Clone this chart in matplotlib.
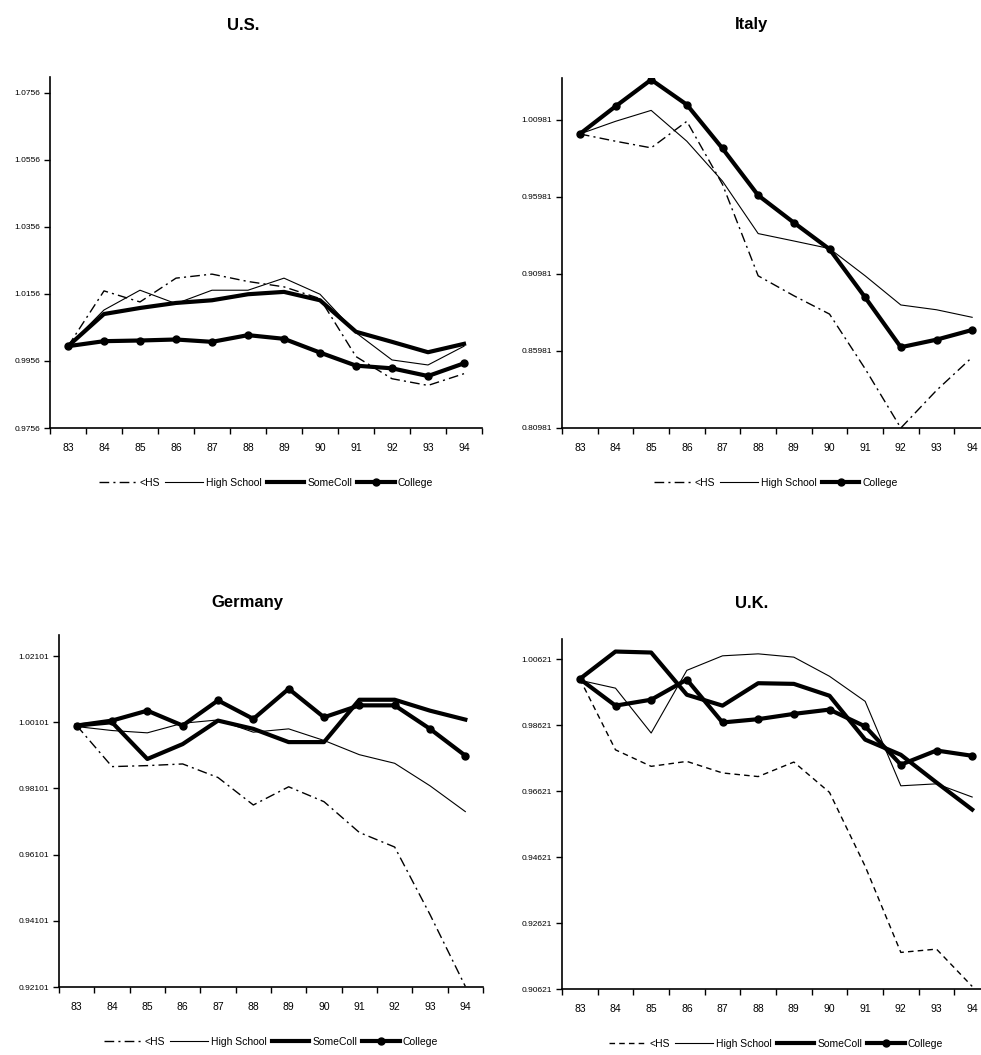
import matplotlib
matplotlib.use("Agg")
import matplotlib.pyplot as plt
from matplotlib.lines import Line2D

plt.rcParams['font.family'] = ['Liberation Sans Narrow', 'Liberation Sans', 'DejaVu Sans']

years = ['83', '84', '85', '86', '87', '88', '89', '90', '91', '92', '93', '94']

# relative wage series by education group, 1983 = 1
us_hs = [1.0000, 1.0165, 1.0132, 1.0203, 1.0215, 1.0193, 1.0177, 1.0142, 0.9969, 0.9903, 0.9883, 0.9918]
us_highschool = [1.0000, 1.0108, 1.0167, 1.0127, 1.0167, 1.0167, 1.0203, 1.0155, 1.0040, 0.9959, 0.9944, 1.0000]
us_somecoll = [1.0000, 1.0096, 1.0114, 1.0129, 1.0137, 1.0155, 1.0162, 1.0137, 1.0043, 1.0013, 0.9982, 1.0007]
us_college = [1.0000, 1.0015, 1.0017, 1.0020, 1.0013, 1.0033, 1.0022, 0.9981, 0.9942, 0.9934, 0.9911, 0.9949]
us_ticks = [0.9756, 0.9956, 1.0156, 1.0356, 1.0556, 1.0756]
us_labels = ['0.9756', '0.9956', '1.0156', '1.0356', '1.0556', '1.0756']

it_hs = [1.0005, 0.9958, 0.9915, 1.0087, 0.9678, 0.9085, 0.8956, 0.8837, 0.8482, 0.8098, 0.8342, 0.8557]
it_highschool = [1.0005, 1.0087, 1.0158, 0.9958, 0.9699, 0.9359, 0.9311, 0.9262, 0.9085, 0.8896, 0.8865, 0.8816]
it_college = [1.0005, 1.0184, 1.0357, 1.0195, 0.9911, 0.9607, 0.9430, 0.9258, 0.8945, 0.8622, 0.8671, 0.8734]
it_ticks = [0.80981, 0.85981, 0.90981, 0.95981, 1.00981]
it_labels = ['0.80981', '0.85981', '0.90981', '0.95981', '1.00981']

de_hs = [1.0000, 0.9876, 0.9879, 0.9884, 0.9843, 0.9760, 0.9815, 0.9770, 0.9677, 0.9633, 0.9429, 0.9212]
de_highschool = [0.9997, 0.9985, 0.9978, 1.0007, 1.0017, 0.9980, 0.9990, 0.9955, 0.9912, 0.9886, 0.9818, 0.9740]
de_somecoll = [1.0000, 1.0010, 0.9899, 0.9944, 1.0015, 0.9990, 0.9950, 0.9950, 1.0078, 1.0078, 1.0045, 1.0018]
de_college = [1.0000, 1.0015, 1.0045, 1.0000, 1.0076, 1.0020, 1.0111, 1.0025, 1.0061, 1.0061, 0.9990, 0.9909]
de_ticks = [0.92101, 0.94101, 0.96101, 0.98101, 1.00101, 1.02101]
de_labels = ['0.92101', '0.94101', '0.96101', '0.98101', '1.00101', '1.02101']

uk_hs = [1.0002, 0.9787, 0.9737, 0.9752, 0.9717, 0.9706, 0.9750, 0.9658, 0.9434, 0.9173, 0.9183, 0.9070]
uk_highschool = [0.9998, 0.9974, 0.9838, 1.0028, 1.0072, 1.0078, 1.0068, 1.0010, 0.9934, 0.9678, 0.9684, 0.9644]
uk_somecoll = [1.0002, 1.0085, 1.0082, 0.9954, 0.9921, 0.9989, 0.9987, 0.9951, 0.9818, 0.9772, 0.9688, 0.9606]
uk_college = [1.0002, 0.9921, 0.9939, 1.0000, 0.9870, 0.9880, 0.9896, 0.9909, 0.9858, 0.9742, 0.9785, 0.9769]
uk_ticks = [0.90621, 0.92621, 0.94621, 0.96621, 0.98621, 1.00621]
uk_labels = ['0.90621', '0.92621', '0.94621', '0.96621', '0.98621', '1.00621']

W, H = 981, 1055
DASHDOT = (0, (7, 3, 1.5, 3))
DASHED = (0, (4, 3))


def px_axes(fig, left, right, top, bottom):
    return fig.add_axes([left / W, 1 - bottom / H, (right - left) / W, (bottom - top) / H])


def panel(ax, series, ticks, labels, ylim, hs_style, height_px):
    x = list(range(len(years)))
    styles = {
        '<HS': dict(color='black', lw=1.0, ls=hs_style),
        'High School': dict(color='black', lw=0.8, ls='-'),
        'SomeColl': dict(color='black', lw=3.0, ls='-'),
        'College': dict(color='black', lw=3.0, ls='-', marker='o', ms=5),
    }
    handles = []
    for name, vals in series:
        ax.plot(x, vals, **styles[name])
        handles.append(Line2D([], [], **styles[name]))

    ax.set_xlim(-0.5, len(years) - 0.5)
    ax.set_ylim(*ylim)
    ax.set_xticks(x)
    ax.set_xticklabels(years, fontsize=7.5)
    ax.set_xticks([i - 0.5 for i in range(len(years) + 1)], minor=True)
    ax.tick_params(axis='x', which='major', length=0, pad=11)
    ax.tick_params(axis='x', which='minor', length=4, width=1, direction='out')
    ax.set_yticks(ticks)
    ax.set_yticklabels(labels, fontsize=6)
    ax.tick_params(axis='y', length=4, width=1, direction='out', pad=3)
    for side in ('top', 'right'):
        ax.spines[side].set_visible(False)
    for side in ('left', 'bottom'):
        ax.spines[side].set_linewidth(1.2)

    ax.legend(handles, [n for n, _ in series], loc='center',
              bbox_to_anchor=(0.5, -55 / height_px), ncol=len(series),
              frameon=False, fontsize=7.5, handlelength=3.6, handletextpad=0.3,
              columnspacing=0.5, numpoints=1)


fig = plt.figure(figsize=(W / 100, H / 100), dpi=100)

ax_us = px_axes(fig, 50, 482, 77, 428)
panel(ax_us, [('<HS', us_hs), ('High School', us_highschool),
              ('SomeColl', us_somecoll), ('College', us_college)],
      us_ticks, us_labels, (0.9756, 1.0803), DASHDOT, 351)

ax_it = px_axes(fig, 562, 990, 78, 428)
panel(ax_it, [('<HS', it_hs), ('High School', it_highschool), ('College', it_college)],
      it_ticks, it_labels, (0.80981, 1.0368), DASHDOT, 350)

ax_de = px_axes(fig, 59, 483, 635, 987)
panel(ax_de, [('<HS', de_hs), ('High School', de_highschool),
              ('SomeColl', de_somecoll), ('College', de_college)],
      de_ticks, de_labels, (0.92101, 1.02736), DASHDOT, 352)

ax_uk = px_axes(fig, 562, 990, 639, 989)
panel(ax_uk, [('<HS', uk_hs), ('High School', uk_highschool),
              ('SomeColl', uk_somecoll), ('College', uk_college)],
      uk_ticks, uk_labels, (0.90621, 1.0123), DASHED, 350)

for label, xp, yp in [('U.S.', 243, 25), ('Italy', 752, 25),
                      ('Germany', 247, 603), ('U.K.', 752, 603)]:
    fig.text(xp / W, 1 - yp / H, label, ha='center', va='center',
             fontsize=12, fontweight='bold')

fig.savefig('out.png', dpi=100)
